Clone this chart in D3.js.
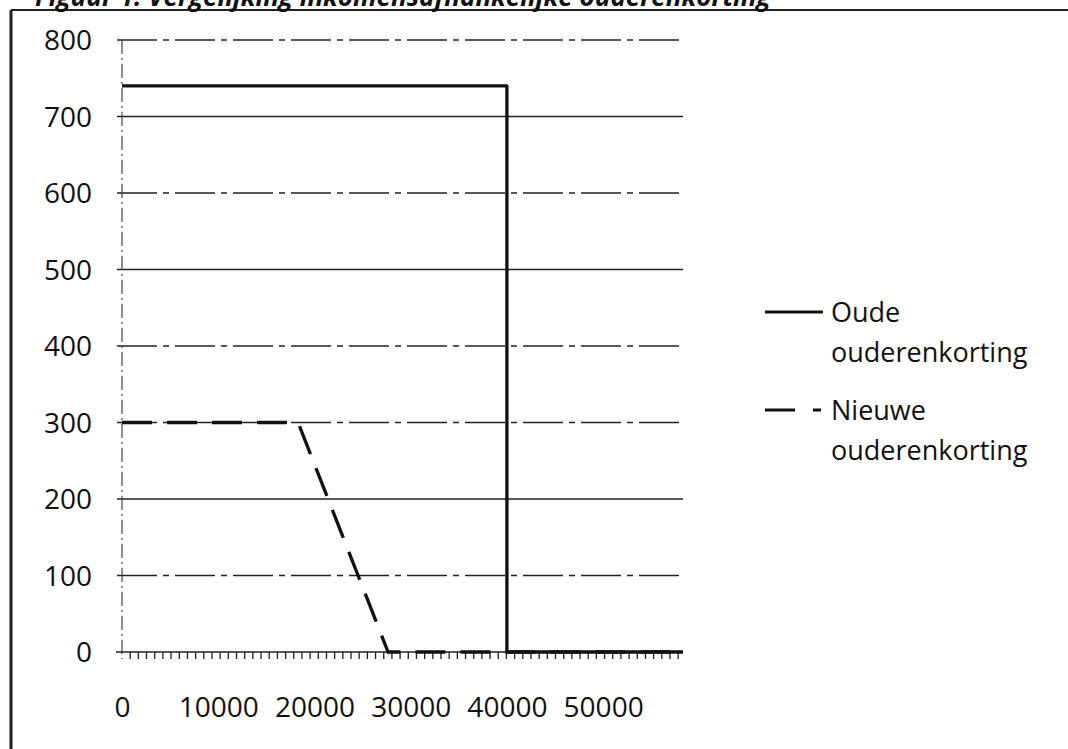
<!DOCTYPE html>
<html>
<head>
<meta charset="utf-8">
<script src="https://cdn.jsdelivr.net/npm/d3@7"></script>
<style>
  body { margin: 0; background: #fff; }
  text { font-family: "Open Sans", sans-serif; fill: #111; }
</style>
</head>
<body>
<svg width="1068" height="749"></svg>
<script>
// values
var titel = "Figuur 1: Vergelijking inkomensafhankelijke ouderenkorting";
var inkomenOud = [0, 40000, 40000, 58300];
var kortingOud = [740, 740, 0, 0];
var inkomenNieuw = [0, 18300, 27650, 58300];
var kortingNieuw = [300, 300, 0, 0];
var yTicks = [0, 100, 200, 300, 400, 500, 600, 700, 800];
var xTicks = [0, 10000, 20000, 30000, 40000, 50000];
var xMax = 58300;
var minorStap = 850;
var reeksen = ["Oude ouderenkorting", "Nieuwe ouderenkorting"];

var svg = d3.select("svg"),
    margin = {top: 40, right: 385, bottom: 97, left: 122},
    width = +svg.attr("width") - margin.left - margin.right,
    height = +svg.attr("height") - margin.top - margin.bottom,
    g = svg.append("g").attr("transform", "translate(" + margin.left + "," + margin.top + ")");

// scanned frame: top and left edge only
svg.append("line").attr("x1", 11).attr("x2", 1068).attr("y1", 10).attr("y2", 10)
    .attr("stroke", "#222").attr("stroke-width", 2);
svg.append("line").attr("x1", 11).attr("x2", 11).attr("y1", 10).attr("y2", 749)
    .attr("stroke", "#222").attr("stroke-width", 3);

// title, only its lower edge is on the scan
svg.append("text")
    .attr("x", 35).attr("y", 6)
    .style("font-size", "26px")
    .style("font-style", "italic")
    .style("font-weight", "bold")
    .text(titel);

var x = d3.scaleLinear().domain([0, xMax]).range([0, width]);
var y = d3.scaleLinear().domain([0, 800]).range([height, 0]);

// gridlines
var dashed = [100, 300, 400, 600, 800];
g.selectAll(".grid")
  .data(yTicks.filter(function(d) { return d > 0; }))
  .enter().append("line")
    .attr("class", "grid")
    .attr("x1", -5).attr("x2", width)
    .attr("y1", function(d) { return y(d); })
    .attr("y2", function(d) { return y(d); })
    .attr("stroke", "#222")
    .attr("stroke-width", 1.4)
    .attr("stroke-dasharray", function(d) { return dashed.indexOf(d) > -1 ? "40,6,6,6" : null; });

// y axis (dotted in the scan)
g.append("line")
    .attr("x1", 0).attr("x2", 0).attr("y1", y(800)).attr("y2", height + 7)
    .attr("stroke", "#444").attr("stroke-width", 1.2)
    .attr("stroke-dasharray", "14,4,2,4");

var yAxis = d3.axisLeft(y).tickValues(yTicks).tickSize(0).tickPadding(30);
g.append("g")
    .call(yAxis)
    .call(function(a) { a.select(".domain").remove(); })
    .selectAll("text")
    .style("font-size", "28px")
    .attr("dy", "0.35em");

// x axis: baseline, minor ticks, labels
g.append("line")
    .attr("x1", -6).attr("x2", width).attr("y1", height).attr("y2", height)
    .attr("stroke", "#222").attr("stroke-width", 1.5);

g.selectAll(".minor")
  .data(d3.range(minorStap, xMax, minorStap))
  .enter().append("line")
    .attr("class", "minor")
    .attr("x1", function(d) { return x(d); })
    .attr("x2", function(d) { return x(d); })
    .attr("y1", height).attr("y2", height + 7)
    .attr("stroke", "#222").attr("stroke-width", 1.3);

var xAxis = d3.axisBottom(x).tickValues(xTicks).tickFormat(d3.format("d"))
    .tickSize(0).tickPadding(45);
g.append("g")
    .attr("transform", "translate(0," + height + ")")
    .call(xAxis)
    .call(function(a) { a.select(".domain").remove(); })
    .selectAll("text")
    .style("font-size", "28px");

var line = d3.line()
    .x(function(d) { return x(d[0]); })
    .y(function(d) { return y(d[1]); });

g.append("path")
    .datum(d3.zip(inkomenNieuw, kortingNieuw))
    .attr("fill", "none")
    .attr("stroke", "#111")
    .attr("stroke-width", 3.3)
    .attr("stroke-dasharray", "30,15")
    .attr("d", line);

g.append("path")
    .datum(d3.zip(inkomenOud, kortingOud))
    .attr("fill", "none")
    .attr("stroke", "#111")
    .attr("stroke-linejoin", "round")
    .attr("stroke-width", 3.3)
    .attr("d", line);

// legend
var leg = svg.append("g").attr("transform", "translate(765,312)");
var item = leg.selectAll(".item")
  .data(reeksen)
  .enter().append("g")
    .attr("class", "item")
    .attr("transform", function(d, i) { return "translate(0," + (i * 98) + ")"; });

item.append("line")
    .attr("x1", 0).attr("x2", 58).attr("y1", 0).attr("y2", 0)
    .attr("stroke", "#111").attr("stroke-width", 3)
    .attr("stroke-dasharray", function(d, i) { return i === 1 ? "30,18,8,100" : null; });

item.each(function(d) {
  var woorden = d.split(" ");
  var t = d3.select(this).append("text")
      .attr("x", 66).attr("y", 10)
      .style("font-size", "27px");
  woorden.forEach(function(w, j) {
    t.append("tspan").attr("x", 66).attr("dy", j === 0 ? 0 : 40).text(w);
  });
});
</script>
</body>
</html>
